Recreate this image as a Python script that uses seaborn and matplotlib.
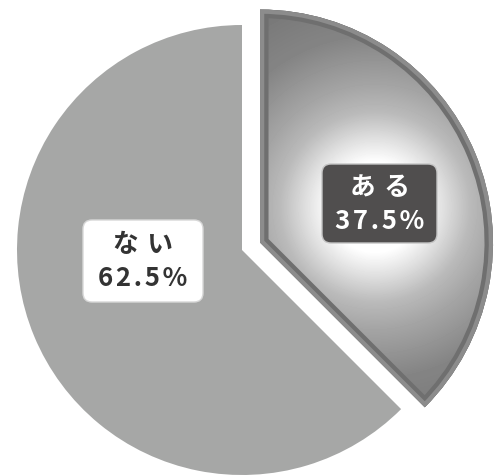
import numpy as np
import matplotlib
matplotlib.use("Agg")
import matplotlib.pyplot as plt
from matplotlib.patches import FancyBboxPatch, Wedge
import seaborn as sns

# Survey answer shares
categories = ["ある", "ない"]
shares = [37.5, 62.5]

sns.set_theme(style="white")
plt.rcParams["font.family"] = ["Noto Sans CJK JP", "DejaVu Sans"]

W, H = 496, 475
fig = plt.figure(figsize=(W / 100, H / 100), dpi=100)
ax = fig.add_axes([0, 0, 1, 1])


def pt(px):
    return px * 72 / 100


center = (242, H - 250)
radius = 225
offset = 19.5  # pull-out distance of the highlighted slice (data units)

wedges, _ = ax.pie(
    shares,
    colors=["#747474", "#a6a7a6"],
    startangle=90,
    counterclock=False,
    center=center,
    radius=radius,
    explode=[offset, 0],
    wedgeprops=dict(linewidth=0),
)
ax.set_xlim(0, W)
ax.set_ylim(0, H)
ax.set_aspect("equal")
ax.axis("off")

# Highlighted slice: slightly larger, radial glow fill with a two-tone rim
hi = wedges[0]
hi_r = 233
hi.set_radius(hi_r)
hi.set_facecolor("none")
clip = Wedge(hi.center, hi_r, hi.theta1, hi.theta2, transform=ax.transData,
             facecolor="none", edgecolor="none")
ax.add_patch(clip)

yy, xx = np.mgrid[0:H, 0:W] + 0.5
glow_c = (375, H - 207)
d = np.hypot(xx - glow_c[0], yy - glow_c[1])
shade = np.interp(d, [0, 45, 68, 95, 120, 170, 240],
                  [1.0, 1.0, 0.88, 0.73, 0.65, 0.52, 0.45])
img = ax.imshow(shade, cmap="gray", vmin=0, vmax=1, origin="lower",
                extent=(0, W, 0, H), interpolation="bilinear", zorder=2)
img.set_clip_path(clip)

for lw_px, col in [(17, "#6f6f6f"), (8.5, "#8c8c8c")]:
    rim = Wedge(hi.center, hi_r, hi.theta1, hi.theta2, fill=False,
                edgecolor=col, linewidth=pt(lw_px), zorder=3,
                joinstyle="miter")
    ax.add_patch(rim)
    rim.set_clip_path(clip)


def spaced(s, sep):
    return sep.join(s)


# Label boxes
boxes = [
    dict(cx=379.5, cy=H - 203.5, w=115, h=79, fc="#504e4e", ec="#c4c4c4", tc="white"),
    dict(cx=143, cy=H - 261, w=120, h=82, fc="white", ec="#d8d8d8", tc="#333333"),
]
for cat, share, b in zip(categories, shares, boxes):
    ax.add_patch(FancyBboxPatch((b["cx"] - b["w"] / 2, b["cy"] - b["h"] / 2), b["w"], b["h"],
                                boxstyle="round,pad=0,rounding_size=9",
                                facecolor=b["fc"], edgecolor=b["ec"], linewidth=1, zorder=4))
    ax.text(b["cx"], b["cy"] + 16, spaced(cat, " \u200a"), ha="center", va="center",
            fontsize=18.5, fontweight="bold", color=b["tc"], zorder=5)
    ax.text(b["cx"], b["cy"] - 18, spaced(f"{share}%", "\u200a"), ha="center", va="center",
            fontsize=18.5, fontweight="bold", color=b["tc"], zorder=5)

fig.savefig("out.png", dpi=100)
